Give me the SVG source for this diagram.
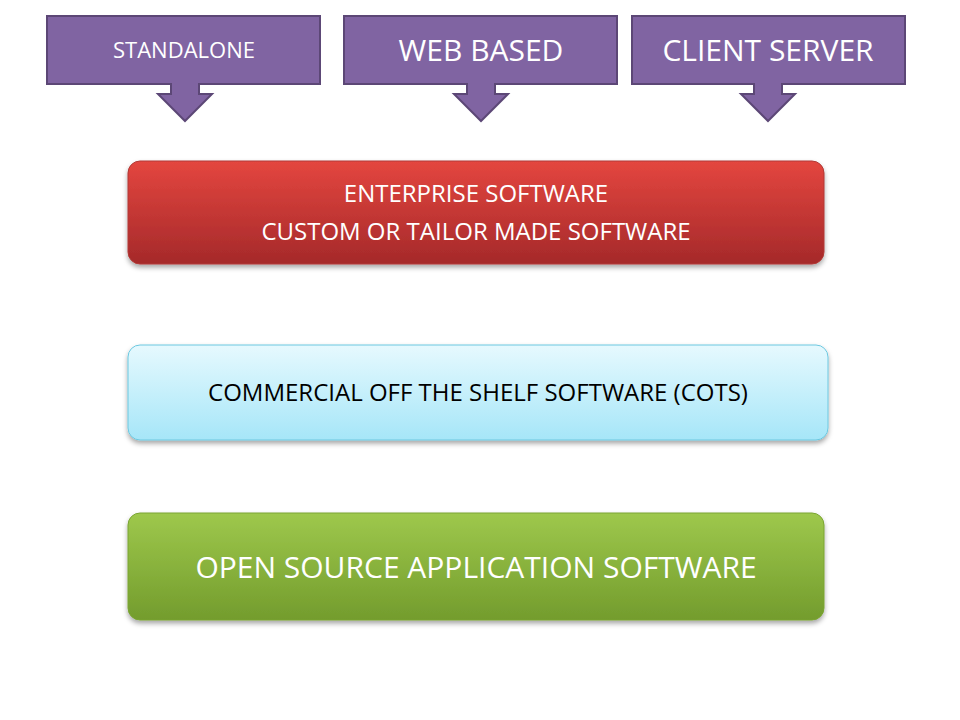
<svg xmlns="http://www.w3.org/2000/svg" width="960" height="720" viewBox="0 0 960 720">
<style>
.cal{fill:#8064a2;stroke:#5c4776;stroke-width:2}
.t{font-family:"Open Sans","DejaVu Sans",sans-serif;text-anchor:middle}
.w{fill:#fff}
</style>
<defs>
<linearGradient id="gr" x1="0" y1="0" x2="0" y2="1"><stop offset="0" stop-color="#e4463f"/><stop offset="1" stop-color="#a5292a"/></linearGradient>
<linearGradient id="gc" x1="0" y1="0" x2="0" y2="1"><stop offset="0" stop-color="#e6f9fe"/><stop offset="1" stop-color="#a6e6f8"/></linearGradient>
<linearGradient id="gg" x1="0" y1="0" x2="0" y2="1"><stop offset="0" stop-color="#9ec84c"/><stop offset="1" stop-color="#739c2d"/></linearGradient>
<filter id="sh" x="-5%" y="-10%" width="110%" height="130%"><feDropShadow dx="0" dy="3" stdDeviation="2.5" flood-opacity="0.35"/></filter>
</defs>
<g id="standalone">
<path class="cal" d="M47,16H320V84H199V94H212L185,121L158,94H171V84H47Z"/>
<text class="t w" x="184" y="58" font-size="22">STANDALONE</text>
</g>
<g id="webbased">
<path class="cal" d="M344,16H617V84H495V94H508L481,121L454,94H467V84H344Z"/>
<text class="t w" x="481" y="61" font-size="30">WEB BASED</text>
</g>
<g id="clientserver">
<path class="cal" d="M632,16H905V84H782V94H795L768,121L741,94H754V84H632Z"/>
<text class="t w" x="768" y="61" font-size="30">CLIENT SERVER</text>
</g>
<g id="enterprise">
<rect x="128" y="161" width="696" height="103" rx="12" fill="url(#gr)" stroke="#b03a36" filter="url(#sh)"/>
<text class="t w" x="476" y="202" font-size="24">ENTERPRISE SOFTWARE</text>
<text class="t w" x="476" y="240" font-size="24">CUSTOM OR TAILOR MADE SOFTWARE</text>
</g>
<g id="cots">
<rect x="128" y="345" width="700" height="95" rx="12" fill="url(#gc)" stroke="#6cc8e0" filter="url(#sh)"/>
<text class="t" x="478" y="401" font-size="24" fill="#000">COMMERCIAL OFF THE SHELF SOFTWARE (COTS)</text>
</g>
<g id="opensource">
<rect x="128" y="513" width="696" height="107" rx="12" fill="url(#gg)" stroke="#7aa432" filter="url(#sh)"/>
<text class="t w" x="476" y="578" font-size="30">OPEN SOURCE APPLICATION SOFTWARE</text>
</g>
<g id="connectors"/>
</svg>
